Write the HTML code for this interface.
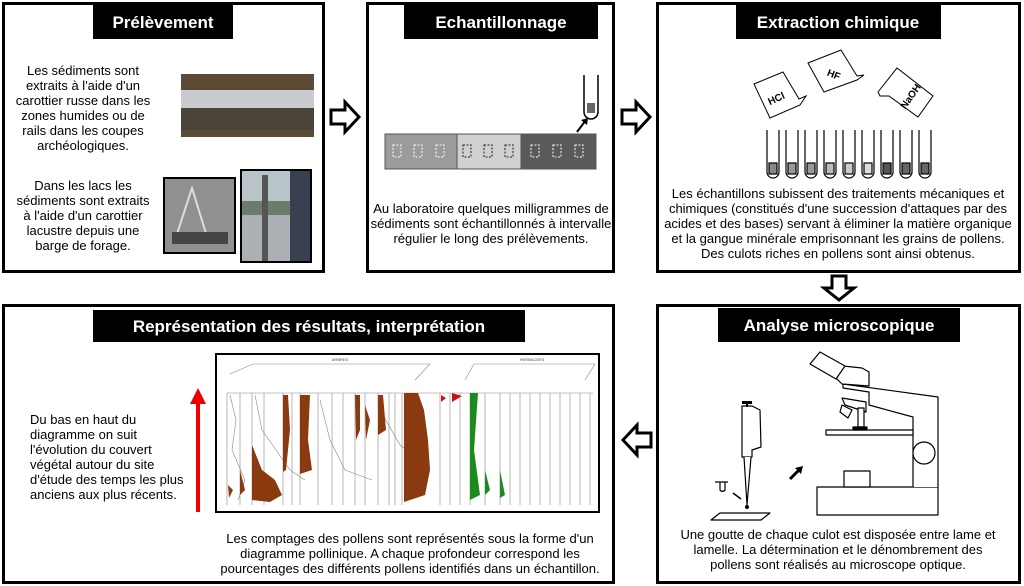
<!DOCTYPE html>
<html><head><meta charset="utf-8"><style>
html,body{margin:0;padding:0;background:#fff;}
svg{display:block;font-family:"Liberation Sans",Arial,sans-serif;}
</style></head><body>
<svg width="1024" height="586" viewBox="0 0 1024 586" xmlns="http://www.w3.org/2000/svg">
<rect width="1024" height="586" fill="#fff"/>
<g fill="none" stroke="#000" stroke-width="3">
<rect x="3.5" y="3.5" width="320" height="268"/>
<rect x="367.5" y="3.5" width="246" height="268"/>
<rect x="657.5" y="3.5" width="362" height="268"/>
<rect x="3.5" y="305.5" width="610" height="277"/>
<rect x="657.5" y="305.5" width="362" height="277"/>
</g>
<rect x="93" y="5" width="140" height="34" fill="#000"/>
<rect x="404" y="5" width="194" height="34" fill="#000"/>
<rect x="736" y="5" width="205" height="34" fill="#000"/>
<rect x="718" y="308" width="242" height="34" fill="#000"/>
<rect x="93" y="310" width="432" height="32" fill="#000"/>
<g fill="#fff" font-weight="bold" font-size="17" text-anchor="middle">
<text x="163" y="28">Prélèvement</text>
<text x="501" y="28">Echantillonnage</text>
<text x="838" y="28">Extraction chimique</text>
<text x="839" y="331">Analyse microscopique</text>
<text x="309" y="332">Représentation des résultats, interprétation</text>
</g>
<g fill="#fff" stroke="#000" stroke-width="3" stroke-linejoin="miter">
<path d="M331 110 H345 V102 L359 117 L345 132 V124 H331 Z"/>
<path d="M622 110 H636 V102 L650 117 L636 132 V124 H622 Z"/>
<path d="M832 276 V288 H824 L839 300 L854 288 H846 V276 Z"/>
<path d="M651 433 H637 V425 L623 440 L637 455 V447 H651 Z"/>
</g>
<g font-size="13" text-anchor="middle" fill="#000">
<text x="83" y="75">Les sédiments sont</text>
<text x="83" y="90">extraits à l'aide d'un</text>
<text x="83" y="105">carottier russe dans les</text>
<text x="83" y="120">zones humides ou de</text>
<text x="83" y="135">rails dans les coupes</text>
<text x="83" y="150">archéologiques.</text>
<text x="83" y="190">Dans les lacs les</text>
<text x="83" y="205">sédiments sont extraits</text>
<text x="83" y="220">à l'aide d'un carottier</text>
<text x="83" y="235">lacustre depuis une</text>
<text x="83" y="250">barge de forage.</text>
<text x="491" y="213">Au laboratoire quelques milligrammes de</text>
<text x="491" y="228">sédiments sont échantillonnés à intervalle</text>
<text x="491" y="243">régulier le long des prélèvements.</text>
<text x="838" y="198">Les échantillons subissent des traitements mécaniques et</text>
<text x="838" y="213">chimiques (constitués d'une succession d'attaques par des</text>
<text x="838" y="228">acides et des bases) servant à éliminer  la matière organique</text>
<text x="838" y="243">et la gangue minérale emprisonnant les grains de pollens.</text>
<text x="838" y="258">Des culots riches en pollens sont ainsi obtenus.</text>
<text x="838" y="539">Une goutte de chaque culot est disposée entre lame et</text>
<text x="838" y="554">lamelle. La détermination et le dénombrement des</text>
<text x="838" y="569">pollens sont réalisés au microscope optique.</text>
<text x="410" y="543">Les comptages des pollens sont représentés sous la forme d'un</text>
<text x="410" y="558">diagramme pollinique. A chaque profondeur correspond les</text>
<text x="410" y="573">pourcentages des différents pollens identifiés dans un échantillon.</text>
</g>
<g font-size="13" fill="#000">
<text x="30" y="424">Du bas en haut du</text>
<text x="30" y="439">diagramme on suit</text>
<text x="30" y="454">l'évolution du couvert</text>
<text x="30" y="469">végétal autour du site</text>
<text x="30" y="484">d'étude des temps les plus</text>
<text x="30" y="499">anciens aux plus récents.</text>
</g>
<!-- photos -->
<rect x="181" y="74" width="133" height="63" fill="#5a4a36"/>
<rect x="181" y="90" width="133" height="18" fill="#c8cccf"/>
<rect x="181" y="108" width="133" height="22" fill="#4a4338"/>
<rect x="164" y="178" width="71" height="75" fill="#8e9190" stroke="#000" stroke-width="2"/>
<path d="M175 240 L192 188 L208 240" stroke="#ddd" stroke-width="2" fill="none"/>
<rect x="172" y="232" width="56" height="12" fill="#444"/>
<rect x="241" y="170" width="70" height="92" fill="#6b7d6a" stroke="#000" stroke-width="2"/>
<rect x="242" y="171" width="68" height="30" fill="#b9c4c8"/>
<rect x="242" y="215" width="68" height="46" fill="#aab0b3"/>
<rect x="262" y="175" width="6" height="86" fill="#555"/>
<rect x="290" y="171" width="20" height="90" fill="#3a4050"/>
<!-- echantillonnage bar -->
<rect x="385" y="134" width="72" height="35" fill="#9b9b9b" stroke="#555"/>
<rect x="457" y="134" width="64" height="35" fill="#d0d0d0" stroke="#555"/>
<rect x="521" y="134" width="75" height="35" fill="#5a5a5a" stroke="#555"/>
<g fill="none" stroke="#222" stroke-dasharray="2,1.5">
<rect x="393" y="145" width="8" height="12" stroke="#fff"/><rect x="414" y="145" width="8" height="12" stroke="#fff"/><rect x="436" y="145" width="8" height="12" stroke="#fff"/>
<rect x="463" y="145" width="8" height="12"/><rect x="484" y="145" width="8" height="12"/><rect x="505" y="145" width="8" height="12"/>
<rect x="531" y="145" width="8" height="12" stroke="#fff"/><rect x="553" y="145" width="8" height="12" stroke="#fff"/><rect x="575" y="145" width="8" height="12" stroke="#fff"/>
</g>
<path d="M584 75 V112 a7 7 0 0 0 14 0 V75" fill="#fff" stroke="#000" stroke-width="1.5"/>
<rect x="587" y="103" width="8" height="10" fill="#666"/>
<path d="M577 132 L586 120" stroke="#000" stroke-width="2"/><path d="M581 120 L588 118 L587 125 Z"/>
<!-- chemical labels -->
<g fill="#fff" stroke="#000" stroke-width="1">
<path d="M754 84 L783 72 L799 99 L806 96 L800 105 L770 118 Z"/>
<path d="M808 63 L841 50 L857 76 L864 75 L857 80 L824 92 Z"/>
<path d="M878 92 L897 68 L933 96 L918 117 L889 96 L880 96 Z"/>
</g>
<g font-size="10" font-weight="bold" text-anchor="middle">
<text x="776" y="102" transform="rotate(-25 776 98)">HCl</text>
<text x="834" y="78" transform="rotate(22 834 74)">HF</text>
<text x="910" y="100" transform="rotate(-55 910 96)">NaOH</text>
</g>
<g stroke="#000" stroke-width="1.2">
<g fill="#fff">
<path d="M767 130 V172 a6 6 0 0 0 12 0 V130"/><path d="M786 130 V172 a6 6 0 0 0 12 0 V130"/><path d="M805 130 V172 a6 6 0 0 0 12 0 V130"/>
<path d="M824 130 V172 a6 6 0 0 0 12 0 V130"/><path d="M843 130 V172 a6 6 0 0 0 12 0 V130"/><path d="M862 130 V172 a6 6 0 0 0 12 0 V130"/>
<path d="M881 130 V172 a6 6 0 0 0 12 0 V130"/><path d="M900 130 V172 a6 6 0 0 0 12 0 V130"/><path d="M919 130 V172 a6 6 0 0 0 12 0 V130"/>
</g>
<rect x="769" y="163" width="8" height="11" fill="#888"/><rect x="788" y="163" width="8" height="11" fill="#999"/><rect x="807" y="163" width="8" height="11" fill="#999"/>
<rect x="826" y="163" width="8" height="11" fill="#bbb"/><rect x="845" y="163" width="8" height="11" fill="#ccc"/><rect x="864" y="163" width="8" height="11" fill="#ddd"/>
<rect x="883" y="163" width="8" height="11" fill="#555"/><rect x="902" y="163" width="8" height="11" fill="#666"/><rect x="921" y="163" width="8" height="11" fill="#666"/>
</g>
<!-- microscope -->
<g fill="#fff" stroke="#000" stroke-width="1.2" stroke-linejoin="round">
<rect x="817" y="487" width="121" height="28"/>
<rect x="844" y="471" width="26" height="16"/>
<path d="M913 487 V417 L869 405 V392 L843 388 L843 384 L938 397 V487"/>
<rect x="826" y="430" width="87" height="5"/>
<circle cx="924" cy="453" r="11"/>
<path d="M842 384 L836 378 L834 365 L862 368 L869 372 L869 386 Z"/>
<path d="M810 364 L820 352 L845 366 L836 379 Z"/>
<path d="M842 398 L866 402 L866 412 L845 405 Z"/>
<path d="M842 405 L852 410 L848 418 L840 412 Z"/>
<path d="M858 408 H864 V427 H858 Z"/>
<rect x="853" y="427" width="14" height="3" fill="#000"/>
<path d="M742 406 H752 L760 410 L761 447 L752 450 V457 H742 Z"/>
<path d="M744 457 L747 505 L751 457"/>
<path d="M720 513 L770 513 L761 520 L711 520 Z"/>
<path d="M715 482 H728 M720 482 V490 a3 3 0 0 0 5 0 V482"/>
</g>
<rect x="742" y="401" width="10" height="3" fill="#000"/><rect x="746" y="403" width="2" height="4" fill="#000"/>
<circle cx="747" cy="507" r="2" fill="#000"/>
<path d="M733 493 L741 499" stroke="#000" stroke-width="1.5"/>
<path d="M790 479 L800 469" stroke="#000" stroke-width="3"/><path d="M795 468 L803 466 L801 474 Z"/>
<!-- pollen diagram -->
<rect x="216" y="354" width="383" height="158" fill="#fff" stroke="#000" stroke-width="2"/>
<g stroke="#888" stroke-width="0.6" fill="none">
<path d="M230 374 L253 364 H430 L415 380 M465 380 L474 364 H595 L585 380"/>
<path d="M227 393 V505 M240 393 V505 M252 393 V505 M264 393 V505 M283 393 V505 M292 393 V505 M300 393 V505 M318 393 V505 M332 393 V505 M343 393 V505 M355 393 V505 M365 393 V505 M378 393 V505 M389 393 V505 M395 393 V505 M402 393 V505 M440 393 V505 M450 393 V505 M460 393 V505 M470 393 V505 M485 393 V505 M500 393 V505 M510 393 V505 M520 393 V505 M530 393 V505 M540 393 V505 M550 393 V505 M560 393 V505 M570 393 V505 M580 393 V505 M590 393 V505 M227 393 H593"/>
<path d="M230 395 L236 420 L232 450 L245 480 L238 500 M255 395 L262 430 L290 470 L305 480 M320 400 L330 440 L345 470 L372 480 M380 410 L400 445 L420 460"/>
</g>
<g fill="#8b3a0f">
<path d="M252 500 V445 L262 470 L275 480 L282 495 L270 502 Z"/>
<path d="M283 395 H288 L290 430 L286 470 L283 472 Z"/>
<path d="M300 395 H310 L308 440 L312 470 L300 474 Z"/>
<path d="M355 395 H360 L360 430 L356 440 Z"/>
<path d="M365 405 L370 420 L366 440 Z"/>
<path d="M378 395 H383 L386 430 L378 435 Z"/>
<path d="M404 393 H418 L424 410 L428 440 L430 470 L425 495 L404 502 Z"/>
<path d="M228 485 L233 490 L229 498 Z M240 470 L245 490 L240 495 Z"/>
</g>
<g fill="#cc1111"><path d="M441 395 L446 398 L441 402 Z M452 393 L462 396 L452 402 Z"/></g>
<g fill="#1c8a1c"><path d="M470 393 H478 L474 450 L480 495 L470 500 Z M485 470 L490 490 L485 495 Z M500 470 L505 495 L500 498 Z"/></g>
<g font-size="4" fill="#444" text-anchor="middle"><text x="340" y="361">ARBRES</text><text x="532" y="361">HERBACEES</text></g>
<path d="M198 512 V402" stroke="#e00" stroke-width="4"/>
<path d="M190 404 L198 388 L206 404 Z" fill="#e00"/>
</svg>
</body></html>
